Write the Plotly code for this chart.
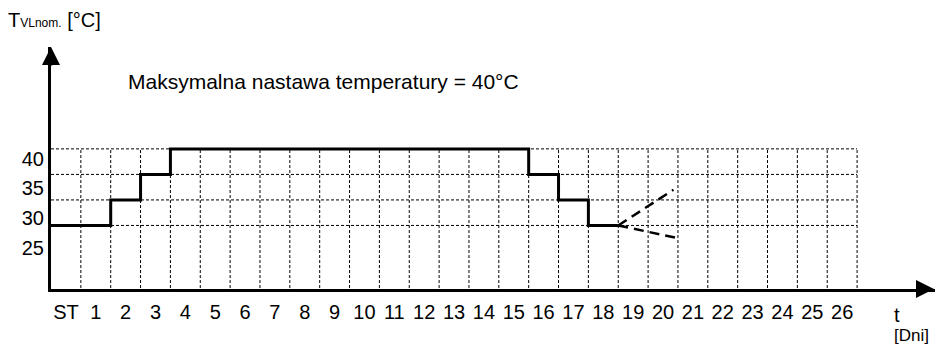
import plotly.graph_objects as go

# Screed-drying heating programme: supply temperature set-point per day
day_labels = ["ST"] + [str(d) for d in range(1, 27)]
day_index = list(range(len(day_labels)))            # 0 = start day "ST"
programme_days = list(range(0, 19))                   # ST .. day 18
programme_temp = [25, 25, 30, 35, 40, 40, 40, 40, 40, 40,
                  40, 40, 40, 40, 40, 40, 35, 30, 25]

# Possible continuation after day 18 (dashed)
branch_up_x = [18.5, 20.35]
branch_up_y = [25, 32]
branch_down_x = [18.5, 20.5]
branch_down_y = [25, 22.5]

grid_levels = [25, 30, 35, 40]
axis_labels = [25, 30, 35, 40]

FONT = "Liberation Sans, Arial, sans-serif"
BLACK = "#000000"

fig = go.Figure()

# dotted grid: one vertical line at each day boundary, horizontal at each level
boundaries = [d + 0.5 for d in day_index]
vx, vy = [], []
for b in boundaries:
    vx += [b, b, None]
    vy += [0, max(grid_levels), None]
fig.add_trace(go.Scatter(x=vx, y=vy, mode="lines",
                         line=dict(color=BLACK, width=1, dash="3px,2px"),
                         hoverinfo="skip", showlegend=False))
hx, hy = [], []
for lv in grid_levels:
    hx += [-0.5, boundaries[-1], None]
    hy += [lv, lv, None]
fig.add_trace(go.Scatter(x=hx, y=hy, mode="lines",
                         line=dict(color=BLACK, width=1, dash="3px,2px"),
                         hoverinfo="skip", showlegend=False))

# step profile: each day's value holds from its left boundary to its right
step_x = [d - 0.5 for d in programme_days] + [programme_days[-1] + 0.5]
step_y = programme_temp + [programme_temp[-1]]
fig.add_trace(go.Scatter(x=step_x, y=step_y, mode="lines", line_shape="hv",
                         line=dict(color=BLACK, width=3),
                         hoverinfo="skip", showlegend=False))

for bx, by in ((branch_up_x, branch_up_y), (branch_down_x, branch_down_y)):
    fig.add_trace(go.Scatter(x=bx, y=by, mode="lines",
                             line=dict(color=BLACK, width=2.5, dash="10px,6px"),
                             hoverinfo="skip", showlegend=False))

# label-only axis for the temperature scale
fig.add_trace(go.Scatter(x=[None], y=[None], yaxis="y2", showlegend=False,
                         hoverinfo="skip"))

fig.update_layout(
    width=935, height=345,
    margin=dict(l=51, r=0, t=47, b=56),
    paper_bgcolor="white", plot_bgcolor="white",
    font=dict(family=FONT, color=BLACK, size=20),
    showlegend=False,
    xaxis=dict(range=[-0.5, 29.11], tickmode="array", tickvals=day_index,
               ticktext=day_labels, ticks="", showgrid=False, zeroline=False,
               showline=True, linecolor=BLACK, linewidth=3,
               tickfont=dict(size=20), ticklabelstandoff=3, fixedrange=True),
    yaxis=dict(range=[12.55, 59.96], showticklabels=False, ticks="",
               showgrid=False, zeroline=False, showline=True,
               linecolor=BLACK, linewidth=3, fixedrange=True),
    yaxis2=dict(range=[18.0, 58.83], overlaying="y", side="left",
                tickmode="array", tickvals=axis_labels,
                ticktext=[str(v) for v in axis_labels], ticks="",
                showgrid=False, zeroline=False, showline=False,
                tickfont=dict(size=20), ticklabelstandoff=6, fixedrange=True),
)

# arrow heads on both axes
fig.add_annotation(xref="paper", yref="paper", x=0, y=1.0, ax=0, ay=20,
                   showarrow=True, arrowhead=2, arrowsize=1.2, arrowwidth=3,
                   arrowcolor=BLACK, text="")
fig.add_annotation(xref="paper", yref="paper", x=1.012, y=0, ax=-20, ay=0,
                   showarrow=True, arrowhead=2, arrowsize=1.2, arrowwidth=3,
                   arrowcolor=BLACK, text="")

fig.add_annotation(xref="paper", yref="paper", x=0.0854, y=0.858,
                   xanchor="left", yanchor="middle", showarrow=False,
                   text="Maksymalna nastawa temperatury = 40°C",
                   font=dict(size=21))
fig.add_annotation(xref="paper", yref="paper", x=-0.0505, y=1.112,
                   xanchor="left", yanchor="middle", showarrow=False,
                   text='T<span style="font-size:12px">VLnom.</span> [°C]',
                   font=dict(size=20))
fig.add_annotation(xref="paper", yref="paper", x=0.951, y=-0.106,
                   xanchor="left", yanchor="middle", showarrow=False,
                   text="t", font=dict(size=20))
fig.add_annotation(xref="paper", yref="paper", x=0.951, y=-0.192,
                   xanchor="left", yanchor="middle", showarrow=False,
                   text="[Dni]", font=dict(size=17))

fig.write_html("out.html")
